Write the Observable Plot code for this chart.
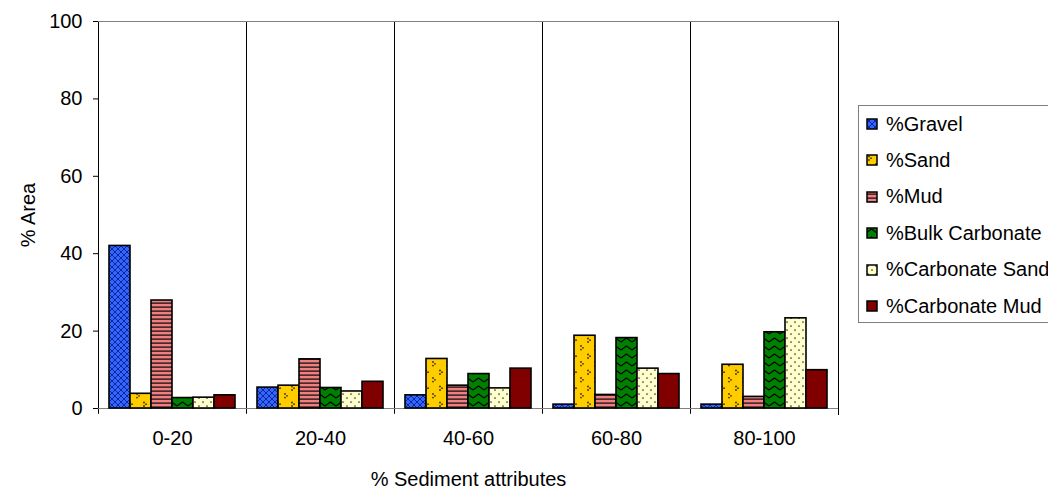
<!DOCTYPE html>
<html><head><meta charset="utf-8">
<script src="https://cdn.jsdelivr.net/npm/d3@7"></script>
<script src="https://cdn.jsdelivr.net/npm/@observablehq/plot@0.6"></script>
<style>
body{margin:0;background:#fff;overflow:hidden;font-family:"Liberation Sans",Arial,sans-serif;}
#wrap{position:relative;width:1048px;height:490px;overflow:hidden;}
#legend{position:absolute;left:858px;top:105px;width:220px;height:218px;border:1px solid #7f7f7f;box-sizing:border-box;background:#fff;}
.item{position:absolute;left:7px;height:20px;display:flex;align-items:center;font-size:20px;white-space:nowrap;color:#000;}
.item svg{margin-right:8px;}
</style></head><body>
<svg width="0" height="0" style="position:absolute">
<defs>
<pattern id="pGravel" width="6" height="6" patternUnits="userSpaceOnUse">
<rect width="6" height="6" fill="#3366ff"/>
<path d="M0,0L6,6M6,0L0,6" stroke="#0a1f8c" stroke-width="0.9"/>
</pattern>
<pattern id="pSand" width="14" height="16" patternUnits="userSpaceOnUse">
<rect width="14" height="16" fill="#ffcc00"/>
<g fill="#3a3000"><circle cx="3" cy="2.5" r="0.9"/><circle cx="5" cy="4.2" r="0.9"/><circle cx="3" cy="6" r="0.9"/>
<circle cx="10" cy="10" r="0.9"/><circle cx="12" cy="11.8" r="0.9"/><circle cx="10" cy="13.6" r="0.9"/></g>
</pattern>
<pattern id="pMud" width="4" height="4" patternUnits="userSpaceOnUse">
<rect width="4" height="4" fill="#f08080"/>
<rect y="2.3" width="4" height="1.7" fill="#4a2a2a"/>
</pattern>
<pattern id="pBulk" width="11" height="8" patternUnits="userSpaceOnUse">
<rect width="11" height="8" fill="#008000"/>
<path d="M0,6L5.5,2L11,6" stroke="#000" stroke-width="1.2" fill="none"/>
</pattern>
<pattern id="pCSand" width="8" height="8" patternUnits="userSpaceOnUse">
<rect width="8" height="8" fill="#ffffcc"/>
<g fill="#333"><circle cx="2" cy="2" r="0.85"/><circle cx="6" cy="6" r="0.85"/></g>
</pattern>
<pattern id="pCMud" width="4" height="4" patternUnits="userSpaceOnUse">
<rect width="4" height="4" fill="#800000"/>
</pattern>
</defs>
</svg>
<div id="wrap"><div id="chart"></div><div id="legend"></div></div>
<script>
const groups = ["0-20", "20-40", "40-60", "60-80", "80-100"];
const series = ["%Gravel", "%Sand", "%Mud", "%Bulk Carbonate", "%Carbonate Sand", "%Carbonate Mud"];
const gravel = [42.0, 5.4, 3.4, 1.0, 1.0];
const sand = [3.8, 5.9, 12.8, 18.8, 11.3];
const mud = [27.9, 12.7, 5.9, 3.5, 3.0];
const bulkCarbonate = [2.7, 5.3, 8.9, 18.2, 19.7];
const carbonateSand = [2.8, 4.4, 5.2, 10.3, 23.3];
const carbonateMud = [3.4, 6.9, 10.3, 8.9, 9.9];
const yTicks = [0, 20, 40, 60, 80, 100];
const patternIds = ["pGravel", "pSand", "pMud", "pBulk", "pCSand", "pCMud"];

const seriesValues = [gravel, sand, mud, bulkCarbonate, carbonateSand, carbonateMud];
const data = [];
groups.forEach((g, gi) => series.forEach((s, si) => data.push({group: g, series: s, value: seriesValues[si][gi]})));
const fills = patternIds.map(id => `url(#${id})`);

const chart = Plot.plot({
  width: 1048,
  height: 490,
  marginLeft: 97,
  marginRight: 210,
  marginTop: 21,
  marginBottom: 82,
  style: {fontSize: "20px", fontFamily: "Liberation Sans, Arial, sans-serif", background: "white", color: "black"},
  facet: {data, x: "group"},
  fx: {domain: groups, padding: 0, label: "% Sediment attributes", labelAnchor: "center", labelArrow: false, tickSize: 0, tickPadding: 22, labelOffset: 77},
  x: {domain: series, paddingInner: 0, paddingOuter: 0.47, axis: null},
  y: {domain: [0, 100], ticks: yTicks, tickSize: 5, tickPadding: 11, label: "% Area", labelAnchor: "center", labelArrow: false, labelOffset: 78},
  color: {domain: series, range: fills},
  marks: [
    Plot.frame({stroke: "black", insetBottom: -6}),
    Plot.ruleY([0], {stroke: "white", dy: 6, strokeWidth: 1.5}),
    Plot.ruleY([0], {stroke: "#808080"}),
    Plot.ruleY([100], {stroke: "#808080"}),
    Plot.barY(data, {x: "series", y: "value", fill: "series", stroke: "black", strokeWidth: 1.6})
  ]
});
document.getElementById("chart").appendChild(chart);

const legend = document.getElementById("legend");
series.forEach((s, i) => {
  const item = document.createElement("div");
  item.className = "item";
  item.style.top = (8 + 36.4 * i) + "px";
  item.innerHTML = `<svg width="12" height="12"><rect x="1" y="1" width="10" height="10" fill="${fills[i]}" stroke="black" stroke-width="1.5"/></svg><span>${s}</span>`;
  legend.appendChild(item);
});
</script>
</body></html>
